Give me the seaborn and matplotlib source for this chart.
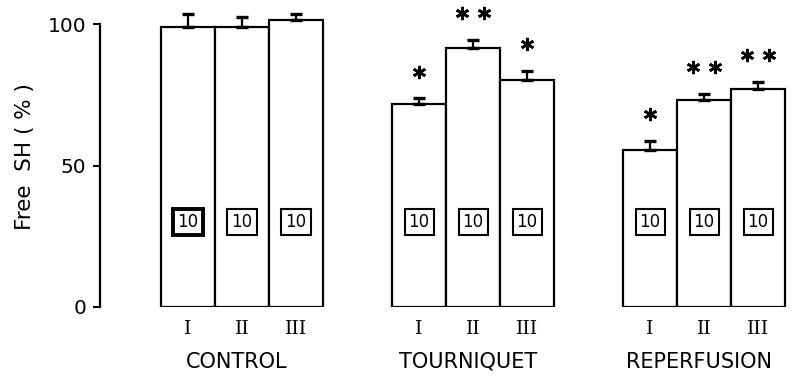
import numpy as np
import pandas as pd
import matplotlib
matplotlib.use("Agg")
import matplotlib.pyplot as plt
import matplotlib.transforms as mtransforms
import seaborn as sns

# Free SH (% of control) per condition and sampling stage, mean +/- SEM
groups = ["CONTROL", "TOURNIQUET", "REPERFUSION"]
stages = ["I", "II", "III"]
free_sh = [99.0, 99.0, 101.3, 71.6, 91.6, 80.1, 55.5, 73.1, 77.0]
sem = [4.6, 3.5, 2.1, 2.1, 2.7, 3.3, 3.2, 2.2, 2.4]
n_obs = [10, 10, 10, 10, 10, 10, 10, 10, 10]
signif = ["", "", "", "*", "**", "*", "*", "**", "**"]

sns.set_theme(style="white")
plt.rcParams["font.family"] = ["DejaVu Sans"]
plt.rcParams["text.color"] = "black"

group_step = 4.28
xpos = [g * group_step + i for g in range(len(groups)) for i in range(len(stages))]
df = pd.DataFrame({"x": xpos, "free_sh": free_sh, "sem": sem})

fig = plt.figure(figsize=(8.03, 3.77), dpi=100)
ax = fig.add_axes([100 / 803, 70 / 377, 690 / 803, 307 / 377])

sns.barplot(data=df, x="x", y="free_sh", native_scale=True, width=1.0,
            color="white", edgecolor="black", linewidth=1.6,
            errorbar=None, ax=ax)
for p in ax.patches:
    p.set_facecolor("white")
    p.set_zorder(2)

# upward-only error bars
ax.errorbar(df["x"], df["free_sh"], yerr=[np.zeros(len(sem)), df["sem"]],
            fmt="none", ecolor="black", elinewidth=1.6, capsize=4.5,
            capthick=2.4, zorder=3)

# significance asterisks
for x, m, s, sig in zip(xpos, free_sh, sem, signif):
    if not sig:
        continue
    ys = m + s + 9.5
    k = len(sig)
    offs = np.linspace(-0.205 * (k - 1), 0.205 * (k - 1), k)
    ax.plot(np.array(offs) + x, [ys] * k, linestyle="none",
            marker=(6, 2, 0), markersize=9.5, markeredgewidth=1.9,
            color="black", zorder=4)

# number of observations in boxes
for i, (x, n) in enumerate(zip(xpos, n_obs)):
    ax.text(x, 30.0, str(n), ha="center", va="center", fontsize=12,
            color="black", zorder=5,
            bbox=dict(boxstyle="square,pad=0.24", facecolor="white",
                      edgecolor="black", linewidth=2.8 if i == 0 else 1.5))

ax.set_xlim(-1.63, 11.15)
ax.set_ylim(0, 108.5)
ax.set_yticks([0, 50, 100])
ax.set_yticklabels(["0", "50", "100"], fontsize=14.5)
ax.tick_params(axis="y", direction="out", length=5, width=1.5, pad=5,
               left=True, colors="black")
ax.set_xticks(xpos)
ax.set_xticklabels(stages * len(groups), fontsize=13.5, family="DejaVu Serif")
ax.tick_params(axis="x", length=0, pad=9, colors="black")

for side in ["top", "right", "bottom"]:
    ax.spines[side].set_visible(False)
ax.spines["left"].set_bounds(0, 100)
ax.spines["left"].set_linewidth(1.6)
ax.spines["left"].set_color("black")

ax.set_xlabel("")
ax.set_ylabel("Free  SH ( % )", fontsize=15.5, color="black")
ax.yaxis.set_label_coords(-0.094, 0.49)

trans = mtransforms.blended_transform_factory(ax.transData, ax.transAxes)
for g, name in enumerate(groups):
    ax.text(g * group_step + 0.9, -0.179, name, transform=trans,
            ha="center", va="center", fontsize=15, color="black")

fig.savefig("out.png", dpi=100, facecolor="white")
